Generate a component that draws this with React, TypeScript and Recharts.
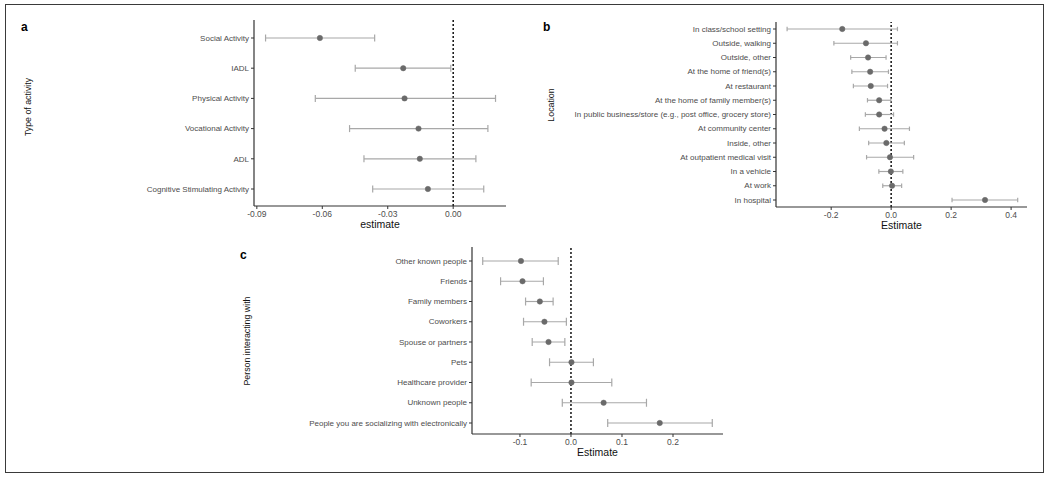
import { ComposedChart, Line, XAxis, YAxis, ErrorBar, ReferenceLine } from "recharts"

// panel a
const activityLabels = [
  "Social Activity",
  "IADL",
  "Physical Activity",
  "Vocational Activity",
  "ADL",
  "Cognitive Stimulating Activity",
]
const activityEstimate = [-0.0611, -0.0229, -0.0223, -0.0159, -0.0153, -0.0116]
const activityLower = [-0.086, -0.0449, -0.0632, -0.0475, -0.0409, -0.0369]
const activityUpper = [-0.036, -0.0011, 0.0194, 0.0159, 0.0104, 0.014]
const activityTicks = [-0.09, -0.06, -0.03, 0]

// panel b
const locationLabels = [
  "In class/school setting",
  "Outside, walking",
  "Outside, other",
  "At the home of friend(s)",
  "At restaurant",
  "At the home of family member(s)",
  "In public business/store (e.g., post office, grocery store)",
  "At community center",
  "Inside, other",
  "At outpatient medical visit",
  "In a vehicle",
  "At work",
  "In hospital",
]
const locationEstimate = [-0.163, -0.084, -0.077, -0.07, -0.068, -0.04, -0.04, -0.022, -0.016, -0.004, -0.001, 0.003, 0.313]
const locationLower = [-0.347, -0.191, -0.135, -0.131, -0.126, -0.079, -0.086, -0.106, -0.075, -0.082, -0.041, -0.028, 0.203]
const locationUpper = [0.021, 0.021, -0.017, -0.009, -0.012, -0.001, 0.008, 0.061, 0.044, 0.075, 0.039, 0.035, 0.422]
const locationTicks = [-0.2, 0, 0.2, 0.4]

// panel c
const personLabels = [
  "Other known people",
  "Friends",
  "Family members",
  "Coworkers",
  "Spouse or partners",
  "Pets",
  "Healthcare provider",
  "Unknown people",
  "People you are socializing with electronically",
]
const personEstimate = [-0.098, -0.095, -0.061, -0.052, -0.044, 0.001, 0.001, 0.064, 0.174]
const personLower = [-0.173, -0.138, -0.089, -0.093, -0.076, -0.042, -0.078, -0.017, 0.072]
const personUpper = [-0.025, -0.054, -0.035, -0.009, -0.012, 0.044, 0.08, 0.148, 0.277]
const personTicks = [-0.1, 0, 0.1, 0.2]

const FONT = "'Liberation Sans', Arial, sans-serif"

type Row = { name: string; est: number; err: [number, number] }

function buildRows(labels: string[], est: number[], lo: number[], hi: number[]): Row[] {
  return labels.map((name, i) => ({ name, est: est[i], err: [est[i] - lo[i], hi[i] - est[i]] }))
}

// plain one-line tick so long location names don't wrap
function CategoryTick({ x, y, payload }: any) {
  return (
    <text x={x} y={y} dy="0.34em" textAnchor="end" fontSize={8} fill="#4d4d4d" fontFamily={FONT}>
      {payload.value}
    </text>
  )
}

type PanelProps = {
  rows: Row[]
  left: number
  top: number
  width: number
  height: number
  marginTop: number
  marginRight: number
  yWidth: number
  domain: [number, number]
  ticks: number[]
  digits: number
  xTitle: string
  cap: number
  padTop: number
  padBottom: number
}

function ForestPanel(p: PanelProps) {
  return (
    <div style={{ position: "absolute", left: p.left, top: p.top }}>
      <ComposedChart
        layout="vertical"
        width={p.width}
        height={p.height}
        data={p.rows}
        margin={{ top: p.marginTop, right: p.marginRight, bottom: 0, left: 0 }}
      >
        <XAxis
          type="number"
          domain={p.domain}
          ticks={p.ticks}
          allowDataOverflow
          height={28}
          tickSize={3}
          tickFormatter={(v: number) => v.toFixed(p.digits)}
          tick={{ fontSize: 8.5, fill: "#4d4d4d", fontFamily: FONT }}
          axisLine={{ stroke: "#333", strokeWidth: 1.2 }}
          tickLine={{ stroke: "#333" }}
          label={{
            value: p.xTitle,
            position: "insideBottom",
            offset: 6,
            style: { fontSize: 10.5, fill: "#111", fontFamily: FONT },
          }}
        />
        <YAxis
          type="category"
          dataKey="name"
          width={p.yWidth}
          interval={0}
          tickSize={3}
          padding={{ top: p.padTop, bottom: p.padBottom }}
          tick={<CategoryTick />}
          axisLine={{ stroke: "#333", strokeWidth: 1.2 }}
          tickLine={{ stroke: "#333" }}
        />
        <ReferenceLine x={0} stroke="#111" strokeWidth={1.5} strokeDasharray="2 2" />
        <Line
          dataKey="est"
          stroke="none"
          isAnimationActive={false}
          activeDot={false}
          dot={{ r: 2.7, fill: "#6a6a6a", stroke: "#6a6a6a", strokeWidth: 0.5 }}
        >
          <ErrorBar dataKey="err" direction="x" width={p.cap} stroke="#a8a8a8" strokeWidth={1.2} />
        </Line>
      </ComposedChart>
    </div>
  )
}

const letterStyle: React.CSSProperties = {
  position: "absolute",
  fontFamily: FONT,
  fontWeight: "bold",
  fontSize: 12,
  color: "#000",
  lineHeight: 1,
}

function YTitle({ text, x, y }: { text: string; x: number; y: number }) {
  return (
    <div
      style={{
        position: "absolute",
        left: x,
        top: y,
        transform: "translate(-50%, -50%) rotate(-90deg)",
        fontFamily: FONT,
        fontSize: 8.8,
        color: "#111",
        whiteSpace: "nowrap",
        lineHeight: 1,
      }}
    >
      {text}
    </div>
  )
}

export default function App() {
  const activityRows = buildRows(activityLabels, activityEstimate, activityLower, activityUpper)
  const locationRows = buildRows(locationLabels, locationEstimate, locationLower, locationUpper)
  const personRows = buildRows(personLabels, personEstimate, personLower, personUpper)

  return (
    <div style={{ position: "absolute", left: 0, top: 0, width: 1050, height: 481, background: "#fff", overflow: "hidden" }}>
      <div
        style={{
          position: "absolute",
          left: 5,
          top: 4,
          width: 1039,
          height: 469,
          boxSizing: "border-box",
          border: "1.5px solid #3a3a3a",
        }}
      />
      <ForestPanel
        rows={activityRows}
        left={0}
        top={0}
        width={520}
        height={234}
        marginTop={20}
        marginRight={14}
        yWidth={254}
        domain={[-0.0913, 0.0242]}
        ticks={activityTicks}
        digits={2}
        xTitle="estimate"
        cap={3.5}
        padTop={18}
        padBottom={17}
      />
      <ForestPanel
        rows={locationRows}
        left={540}
        top={0}
        width={500}
        height={235}
        marginTop={22}
        marginRight={13}
        yWidth={236}
        domain={[-0.384, 0.453]}
        ticks={locationTicks}
        digits={1}
        xTitle="Estimate"
        cap={2.2}
        padTop={7}
        padBottom={7}
      />
      <ForestPanel
        rows={personRows}
        left={230}
        top={230}
        width={500}
        height={232}
        marginTop={17}
        marginRight={7}
        yWidth={242}
        domain={[-0.194, 0.298]}
        ticks={personTicks}
        digits={1}
        xTitle="Estimate"
        cap={4}
        padTop={14}
        padBottom={11}
      />
      <div style={{ ...letterStyle, left: 21, top: 21 }}>a</div>
      <div style={{ ...letterStyle, left: 543, top: 21 }}>b</div>
      <div style={{ ...letterStyle, left: 240, top: 249 }}>c</div>
      <YTitle text="Type of activity" x={28} y={107} />
      <YTitle text="Location" x={551} y={105} />
      <YTitle text="Person interacting with" x={247} y={341} />
    </div>
  )
}
